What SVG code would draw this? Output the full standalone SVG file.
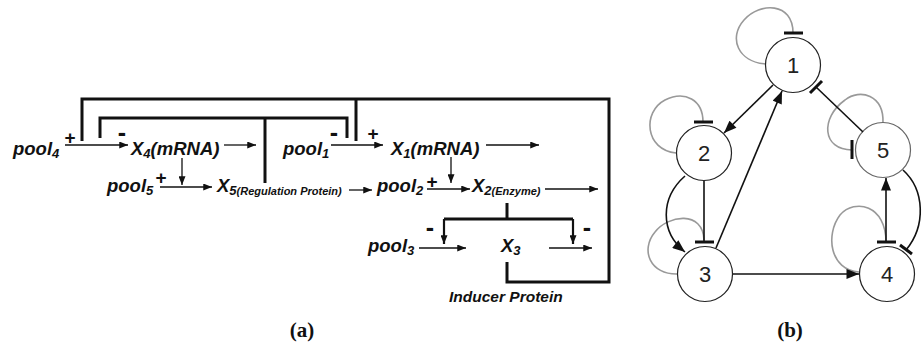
<svg xmlns="http://www.w3.org/2000/svg" width="922" height="347" viewBox="0 0 922 347">
<style>
.t{font-family:"Liberation Sans",Arial,sans-serif;font-weight:bold;font-style:italic;font-size:18.5px;fill:#111}
.sub{font-size:13px}
.sm{font-size:11px}
.sg{font-family:"Liberation Sans",Arial,sans-serif;font-weight:bold;font-size:19px;fill:#111;text-anchor:middle}
.mn{font-size:25px}
.thin{stroke:#111;stroke-width:1.3;fill:none}
.thick{stroke:#111;stroke-width:3;fill:none}
.mid{stroke:#111;stroke-width:2.2;fill:none}
.edge{stroke:#111;stroke-width:1.6;fill:none}
.loop{stroke:#999;stroke-width:1.6;fill:none}
.bar{stroke:#111;stroke-width:3;fill:none}
.node{fill:#fff;stroke:#222;stroke-width:1.2}
.num{font-family:"Liberation Sans",Arial,sans-serif;font-size:22px;fill:#222;text-anchor:middle}
.cap{font-family:"Liberation Serif","Times New Roman",serif;font-weight:bold;font-size:21px;fill:#111;text-anchor:middle}
</style>
<defs>
<marker id="ah" viewBox="0 0 10 8" refX="10" refY="4" markerWidth="9" markerHeight="7" markerUnits="userSpaceOnUse" orient="auto"><path d="M0,0 L10,4 L0,8 z" fill="#111"/></marker>
<marker id="ahb" viewBox="0 0 10 8" refX="10" refY="4" markerWidth="14" markerHeight="10" markerUnits="userSpaceOnUse" orient="auto"><path d="M0,0 L10,4 L0,8 z" fill="#111"/></marker>
</defs>
<rect width="922" height="347" fill="#fff"/>

<!-- Part (a) -->
<g id="connectors-a">
  <path class="thick" d="M507,262 L507,282 L609,282 L609,99 L82,99 L82,141"/>
  <path class="thick" d="M356,99 L356,141"/>
  <path class="thick" d="M265,183 L265,118"/>
  <path class="thick" d="M100,138 L100,118 L347,118 L347,138"/>
  <path class="thin" d="M65,145 L128,145" marker-end="url(#ah)"/>
  <path class="thin" d="M224,145 L256,145" marker-end="url(#ah)"/>
  <path class="thin" d="M331,145 L383,145" marker-end="url(#ah)"/>
  <path class="thin" d="M486,145 L539,145" marker-end="url(#ah)"/>
  <path class="thin" d="M182,158 L182,185" marker-end="url(#ah)"/>
  <path class="thin" d="M451,157 L451,183" marker-end="url(#ah)"/>
  <path class="thin" d="M160,187 L212,187" marker-end="url(#ah)"/>
  <path class="thin" d="M349,190 L372,190" marker-end="url(#ah)"/>
  <path class="thin" d="M427,189 L470,189" marker-end="url(#ah)"/>
  <path class="thin" d="M545,189 L598,189" marker-end="url(#ah)"/>
  <path class="thick" d="M507,203 L507,219"/>
  <path class="thick" d="M444,219 L573,219"/>
  <path class="mid" d="M444,219 L444,244" marker-end="url(#ah)"/>
  <path class="mid" d="M573,219 L573,244" marker-end="url(#ah)"/>
  <path class="thin" d="M419,248 L466,248" marker-end="url(#ah)"/>
  <path class="thin" d="M549,248 L592,248" marker-end="url(#ah)"/>
</g>

<g id="signs">
  <text class="sg" x="70" y="144">+</text>
  <text class="sg mn" x="122" y="141">-</text>
  <text class="sg mn" x="334" y="141">-</text>
  <text class="sg" x="373" y="140">+</text>
  <text class="sg" x="161" y="184">+</text>
  <text class="sg" x="432" y="188">+</text>
  <text class="sg mn" x="430" y="236">-</text>
  <text class="sg mn" x="587" y="236">-</text>
</g>

<g id="pool4"><text class="t" x="13" y="155">pool<tspan class="sub" dy="3">4</tspan></text></g>
<g id="X4"><text class="t" x="131" y="155">X<tspan class="sub" dy="3">4</tspan><tspan dy="-3">(mRNA)</tspan></text></g>
<g id="pool1"><text class="t" x="283" y="155">pool<tspan class="sub" dy="3">1</tspan></text></g>
<g id="X1"><text class="t" x="391" y="155">X<tspan class="sub" dy="3">1</tspan><tspan dy="-3">(mRNA)</tspan></text></g>
<g id="pool5"><text class="t" x="107" y="192">pool<tspan class="sub" dy="3">5</tspan></text></g>
<g id="X5"><text class="t" x="217" y="192">X<tspan class="sub" dy="3">5</tspan><tspan class="sm">(Regulation Protein)</tspan></text></g>
<g id="pool2"><text class="t" x="377" y="192">pool<tspan class="sub" dy="3">2</tspan></text></g>
<g id="X2"><text class="t" x="472" y="192">X<tspan class="sub" dy="3">2</tspan><tspan class="sm">(Enzyme)</tspan></text></g>
<g id="pool3"><text class="t" x="368" y="252">pool<tspan class="sub" dy="3">3</tspan></text></g>
<g id="X3"><text class="t" x="501" y="252">X<tspan class="sub" dy="3">3</tspan></text></g>
<g id="inducer"><text class="t" x="449" y="302" style="font-size:15.5px">Inducer Protein</text></g>
<text class="cap" x="302" y="337">(a)</text>

<!-- Part (b) -->
<g id="loops-b">
  <path class="loop" d="M766,64 C738,62 728,38 744,20 C760,2 793,2 793,33"/>
  <path class="loop" d="M676,153 C645,150 642,112 665,100 C685,90 703,100 703,122"/>
  <path class="loop" d="M883,123 C884,95 860,88 845,100 C820,118 822,150 852,150"/>
  <path class="loop" d="M678,274 C650,275 640,250 655,232 C668,215 703,210 704,240"/>
  <path class="loop" d="M859,272 C830,270 825,235 840,215 C855,198 886,205 886,242"/>
</g>

<g id="n1"><circle class="node" cx="793" cy="65" r="27.5"/><text class="num" x="793" y="73">1</text></g>
<g id="n2"><circle class="node" cx="704" cy="153" r="27.5"/><text class="num" x="704" y="161">2</text></g>
<g id="n3"><circle class="node" cx="705" cy="274" r="27.5"/><text class="num" x="705" y="282">3</text></g>
<g id="n4"><circle class="node" cx="887" cy="274" r="27.5"/><text class="num" x="887" y="282">4</text></g>
<g id="n5"><circle class="node" cx="883" cy="150" r="27.5" style="stroke:#666"/><text class="num" x="883" y="158">5</text></g>

<g id="connectors-b">
  <path class="edge" d="M773,85 L724,133" marker-end="url(#ahb)"/>
  <path class="edge" d="M716,248 L782,91" marker-end="url(#ahb)"/>
  <path class="edge" d="M863,132 L816,87"/>
  <path class="edge" d="M704,181 L704,242"/>
  <path class="edge" d="M685,176 C660,198 660,232 685,252" marker-end="url(#ahb)"/>
  <path class="edge" d="M733,274 L859,274" marker-end="url(#ahb)"/>
  <path class="edge" d="M886,242 L886,178" marker-end="url(#ahb)"/>
  <path class="edge" d="M903,170 C925,190 926,226 906,250"/>
  <path class="bar" d="M810,93 L822,81"/>
  <path class="bar" d="M784,33 L803,33"/>
  <path class="bar" d="M694,122 L713,122"/>
  <path class="bar" d="M852,140 L852,159"/>
  <path class="bar" d="M695,242 L714,242"/>
  <path class="bar" d="M877,242 L896,242"/>
  <path class="bar" d="M900,245 L912,254"/>
</g>
<text class="cap" x="790" y="337">(b)</text>
</svg>
